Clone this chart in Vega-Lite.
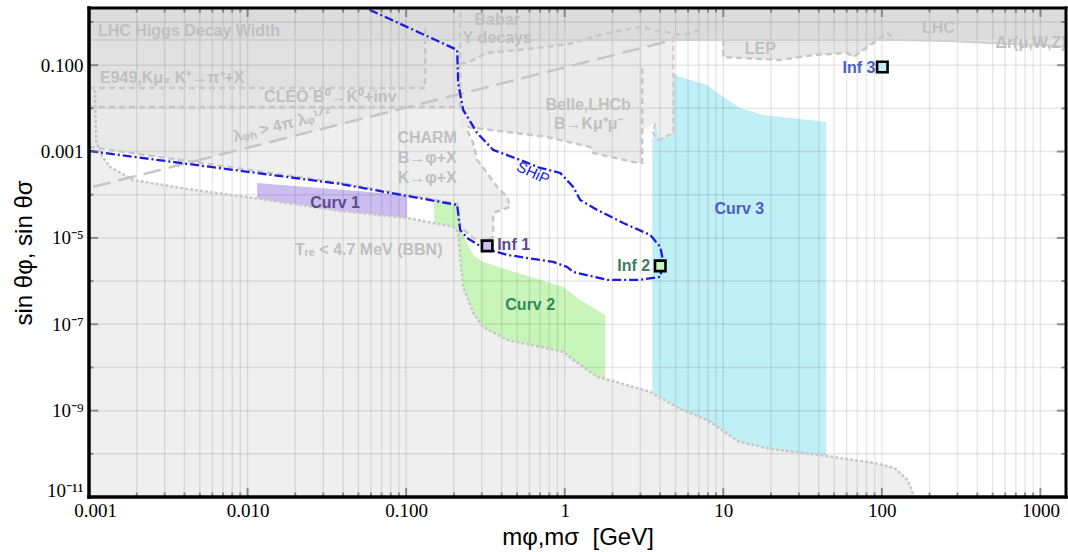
{
"$schema": "https://vega.github.io/schema/vega-lite/v6.json",
"width": 977, "height": 489,
"autosize": {"type": "none"},
"padding": {"left": 89, "top": 8, "right": 2, "bottom": 55},
"background": "white",
"config": {"view": {"stroke": null}, "font": "Liberation Sans"},
"datasets": {
"poly": [
{"id":"up","o":1,"x":0.0009,"y":0.00134},{"id":"up","o":2,"x":0.005016,"y":0.000545},{"id":"up","o":3,"x":0.03835,"y":0.000187},{"id":"up","o":4,"x":0.2099,"y":0.0000612},{"id":"up","o":5,"x":0.2192,"y":0.000018},{"id":"up","o":6,"x":0.2647,"y":0.00001},{"id":"up","o":7,"x":0.306,"y":0.00000808},{"id":"up","o":8,"x":0.3539,"y":0.0000105},{"id":"up","o":9,"x":0.3539,"y":0.0000379},{"id":"up","o":10,"x":0.4531,"y":0.0000522},{"id":"up","o":11,"x":0.4337,"y":0.0000889},{"id":"up","o":12,"x":0.3751,"y":0.000152},{"id":"up","o":13,"x":0.3243,"y":0.00032},{"id":"up","o":14,"x":0.2805,"y":0.000639},{"id":"up","o":15,"x":0.2647,"y":0.001581},{"id":"up","o":16,"x":0.2426,"y":0.003162},{"id":"up","o":17,"x":0.2426,"y":0.00371},{"id":"up","o":18,"x":0.4337,"y":0.002843},{"id":"up","o":19,"x":0.7754,"y":0.002178},{"id":"up","o":20,"x":1.448,"y":0.001278},{"id":"up","o":21,"x":1.513,"y":0.000928},{"id":"up","o":22,"x":2.705,"y":0.000574},{"id":"up","o":23,"x":3.083,"y":0.000545},{"id":"up","o":24,"x":3.083,"y":0.003162},{"id":"up","o":25,"x":3.724,"y":0.004592},{"id":"up","o":26,"x":3.947,"y":0.001856},{"id":"up","o":27,"x":4.836,"y":0.002695},{"id":"up","o":28,"x":4.836,"y":0.4262},{"id":"up","o":29,"x":10,"y":0.4262},{"id":"up","o":30,"x":10,"y":0.1548},{"id":"up","o":31,"x":22.89,"y":0.1319},{"id":"up","o":32,"x":36.97,"y":0.1722},{"id":"up","o":33,"x":60.57,"y":0.1916},{"id":"up","o":34,"x":66.13,"y":0.1548},{"id":"up","o":35,"x":88.41,"y":0.3265},{"id":"up","o":36,"x":108.3,"y":0.5564},{"id":"up","o":37,"x":118.2,"y":0.4262},{"id":"up","o":38,"x":259,"y":0.3632},{"id":"up","o":39,"x":2000,"y":0.2637},{"id":"up","o":40,"x":2000,"y":5},{"id":"up","o":41,"x":0.0009,"y":5},
{"id":"bbn","o":1,"x":0.0009,"y":0.0267},{"id":"bbn","o":2,"x":0.001091,"y":0.02667},{"id":"bbn","o":3,"x":0.001107,"y":0.001856},{"id":"bbn","o":4,"x":0.001173,"y":0.000928},{"id":"bbn","o":5,"x":0.001357,"y":0.00044},{"id":"bbn","o":6,"x":0.001895,"y":0.00022},{"id":"bbn","o":7,"x":0.004152,"y":0.000136},{"id":"bbn","o":8,"x":0.01199,"y":0.0000799},{"id":"bbn","o":9,"x":0.03835,"y":0.0000422},{"id":"bbn","o":10,"x":0.1015,"y":0.000029},{"id":"bbn","o":11,"x":0.1979,"y":0.000018},{"id":"bbn","o":12,"x":0.2129,"y":0.0000138},{"id":"bbn","o":13,"x":0.2192,"y":0.00000363},{"id":"bbn","o":14,"x":0.2289,"y":7.34e-7},{"id":"bbn","o":15,"x":0.2647,"y":1.84e-7},{"id":"bbn","o":16,"x":0.306,"y":8.71e-8},{"id":"bbn","o":17,"x":0.4337,"y":4.35e-8},{"id":"bbn","o":18,"x":0.7005,"y":3.0e-8},{"id":"bbn","o":19,"x":0.9784,"y":2.3e-8},{"id":"bbn","o":20,"x":1.131,"y":1.5e-8},{"id":"bbn","o":21,"x":1.603,"y":6.06e-9},{"id":"bbn","o":22,"x":1.801,"y":5.45e-9},{"id":"bbn","o":23,"x":3.463,"y":2.72e-9},{"id":"bbn","o":24,"x":5.201,"y":1.16e-9},{"id":"bbn","o":25,"x":8.045,"y":5.81e-10},{"id":"bbn","o":26,"x":12.62,"y":1.9e-10},{"id":"bbn","o":27,"x":19.8,"y":1.3e-10},{"id":"bbn","o":28,"x":44.01,"y":8.99e-11},{"id":"bbn","o":29,"x":88.41,"y":6.19e-11},{"id":"bbn","o":30,"x":119.9,"y":4.74e-11},{"id":"bbn","o":31,"x":144.9,"y":2.5e-11},{"id":"bbn","o":32,"x":160.3,"y":1e-11},{"id":"bbn","o":33,"x":175,"y":3e-12},{"id":"bbn","o":34,"x":175,"y":1e-13},{"id":"bbn","o":35,"x":0.0009,"y":1e-13},
{"id":"lam","o":1,"x":0.0009,"y":0.00134},{"id":"lam","o":2,"x":0.004465,"y":0.000574},{"id":"lam","o":3,"x":4.836,"y":0.3831},{"id":"lam","o":4,"x":4.836,"y":5},{"id":"lam","o":5,"x":0.0009,"y":5},
{"id":"belle","o":1,"x":0.2426,"y":0.00371},{"id":"belle","o":2,"x":0.4337,"y":0.002843},{"id":"belle","o":3,"x":0.7754,"y":0.002178},{"id":"belle","o":4,"x":1.448,"y":0.001278},{"id":"belle","o":5,"x":1.513,"y":0.000928},{"id":"belle","o":6,"x":2.705,"y":0.000574},{"id":"belle","o":7,"x":3.083,"y":0.000545},{"id":"belle","o":8,"x":3.083,"y":0.2501},{"id":"belle","o":9,"x":0.2192,"y":0.02154},{"id":"belle","o":10,"x":0.2192,"y":0.00371},
{"id":"cleo","o":1,"x":0.0009,"y":0.01077},{"id":"cleo","o":2,"x":0.2192,"y":0.01077},{"id":"cleo","o":3,"x":0.2192,"y":5},{"id":"cleo","o":4,"x":0.0009,"y":5},
{"id":"e949","o":1,"x":0.0009,"y":0.02967},{"id":"e949","o":2,"x":0.1318,"y":0.02967},{"id":"e949","o":3,"x":0.1318,"y":5},{"id":"e949","o":4,"x":0.0009,"y":5},
{"id":"babar","o":1,"x":0.2192,"y":5},{"id":"babar","o":2,"x":0.2192,"y":0.1124},{"id":"babar","o":3,"x":0.2426,"y":0.1124},{"id":"babar","o":4,"x":0.3243,"y":0.1916},{"id":"babar","o":5,"x":0.7754,"y":0.2637},{"id":"babar","o":6,"x":1.131,"y":0.3265},{"id":"babar","o":7,"x":1.854,"y":0.5564},{"id":"babar","o":8,"x":2.995,"y":0.766},{"id":"babar","o":9,"x":4.63,"y":0.5564},{"id":"babar","o":10,"x":5.593,"y":0.5},{"id":"babar","o":11,"x":7.159,"y":0.6529},{"id":"babar","o":12,"x":7.159,"y":5},
{"id":"lep","o":1,"x":10,"y":5},{"id":"lep","o":2,"x":10,"y":0.1548},{"id":"lep","o":3,"x":22.89,"y":0.1319},{"id":"lep","o":4,"x":36.97,"y":0.1722},{"id":"lep","o":5,"x":60.57,"y":0.1916},{"id":"lep","o":6,"x":66.13,"y":0.1548},{"id":"lep","o":7,"x":88.41,"y":0.3265},{"id":"lep","o":8,"x":108.3,"y":0.5564},{"id":"lep","o":9,"x":118.2,"y":0.4262},{"id":"lep","o":10,"x":118.2,"y":5},
{"id":"lhc","o":1,"x":118.2,"y":5},{"id":"lhc","o":2,"x":118.2,"y":0.4262},{"id":"lhc","o":3,"x":127.1,"y":0.3831},{"id":"lhc","o":4,"x":259,"y":0.3632},{"id":"lhc","o":5,"x":2000,"y":0.2637},{"id":"lhc","o":6,"x":2000,"y":5},
{"id":"band","o":1,"x":0.0009,"y":0.3831},{"id":"band","o":2,"x":2000,"y":0.3831},{"id":"band","o":3,"x":2000,"y":5},{"id":"band","o":4,"x":0.0009,"y":5},
{"id":"c1","o":1,"x":0.01148,"y":0.000187},{"id":"c1","o":2,"x":0.1015,"y":0.0000989},{"id":"c1","o":3,"x":0.1015,"y":0.000029},{"id":"c1","o":4,"x":0.03835,"y":0.0000422},{"id":"c1","o":5,"x":0.01199,"y":0.0000799},{"id":"c1","o":6,"x":0.01148,"y":0.0000843},
{"id":"c2","o":1,"x":0.1502,"y":0.0000758},{"id":"c2","o":2,"x":0.2099,"y":0.000058},{"id":"c2","o":3,"x":0.2192,"y":0.0000153},{"id":"c2","o":4,"x":0.2647,"y":0.00000404},{"id":"c2","o":5,"x":0.306,"y":0.00000278},{"id":"c2","o":6,"x":0.4337,"y":0.00000182},{"id":"c2","o":7,"x":0.6329,"y":0.00000119},{"id":"c2","o":8,"x":0.9784,"y":7.34e-7},{"id":"c2","o":9,"x":1.252,"y":3.67e-7},{"id":"c2","o":10,"x":1.801,"y":1.65e-7},{"id":"c2","o":11,"x":1.801,"y":5.45e-9},{"id":"c2","o":12,"x":1.603,"y":6.06e-9},{"id":"c2","o":13,"x":1.131,"y":1.5e-8},{"id":"c2","o":14,"x":0.9784,"y":2.3e-8},{"id":"c2","o":15,"x":0.7005,"y":3.0e-8},{"id":"c2","o":16,"x":0.4337,"y":4.35e-8},{"id":"c2","o":17,"x":0.306,"y":8.71e-8},{"id":"c2","o":18,"x":0.2647,"y":1.84e-7},{"id":"c2","o":19,"x":0.2289,"y":7.34e-7},{"id":"c2","o":20,"x":0.2192,"y":0.00000363},{"id":"c2","o":21,"x":0.2129,"y":0.0000138},{"id":"c2","o":22,"x":0.1979,"y":0.000018},{"id":"c2","o":23,"x":0.1502,"y":0.0000222},
{"id":"c3","o":1,"x":3.566,"y":2.6e-9},{"id":"c3","o":2,"x":3.566,"y":0.001856},{"id":"c3","o":3,"x":3.724,"y":0.004592},{"id":"c3","o":4,"x":3.947,"y":0.001856},{"id":"c3","o":5,"x":4.836,"y":0.002695},{"id":"c3","o":6,"x":4.836,"y":0.06598},{"id":"c3","o":7,"x":5.355,"y":0.05332},{"id":"c3","o":8,"x":7.929,"y":0.0348},{"id":"c3","o":9,"x":10,"y":0.01836},{"id":"c3","o":10,"x":12.81,"y":0.01022},{"id":"c3","o":11,"x":17.88,"y":0.007036},{"id":"c3","o":12,"x":44.65,"y":0.004843},{"id":"c3","o":13,"x":44.65,"y":8.99e-11},{"id":"c3","o":14,"x":19.8,"y":1.3e-10},{"id":"c3","o":15,"x":12.62,"y":1.9e-10},{"id":"c3","o":16,"x":8.045,"y":5.81e-10},{"id":"c3","o":17,"x":5.201,"y":1.16e-9}
],
"ln": [
{"id":"bnd","o":1,"x":0.001,"y":0.001278},{"id":"bnd","o":2,"x":0.03835,"y":0.000187},{"id":"bnd","o":3,"x":0.2099,"y":0.0000612},{"id":"bnd","o":4,"x":0.2192,"y":0.000018},{"id":"bnd","o":5,"x":0.2647,"y":0.00001},{"id":"bnd","o":6,"x":0.306,"y":0.00000808},{"id":"bnd","o":7,"x":0.3539,"y":0.0000105},{"id":"bnd","o":8,"x":0.3539,"y":0.0000379},{"id":"bnd","o":9,"x":0.4531,"y":0.0000522},{"id":"bnd","o":10,"x":0.4337,"y":0.0000889},{"id":"bnd","o":11,"x":0.3751,"y":0.000152},{"id":"bnd","o":12,"x":0.3243,"y":0.00032},{"id":"bnd","o":13,"x":0.2805,"y":0.000639},{"id":"bnd","o":14,"x":0.2647,"y":0.001581},{"id":"bnd","o":15,"x":0.2426,"y":0.003162},{"id":"bnd","o":16,"x":0.2426,"y":0.00371},{"id":"bnd","o":17,"x":0.4337,"y":0.002843},{"id":"bnd","o":18,"x":0.7754,"y":0.002178},{"id":"bnd","o":19,"x":1.448,"y":0.001278},{"id":"bnd","o":20,"x":1.513,"y":0.000928},{"id":"bnd","o":21,"x":2.705,"y":0.000574},{"id":"bnd","o":22,"x":3.083,"y":0.000545},{"id":"bnd","o":23,"x":3.083,"y":0.08614},{"id":"bnd","o":24,"x":3.2,"y":0.08614},
{"id":"e949l","o":1,"x":0.001,"y":0.02967},{"id":"e949l","o":2,"x":0.1318,"y":0.02967},{"id":"e949l","o":3,"x":0.1318,"y":0.766},
{"id":"cleol","o":1,"x":0.001,"y":0.01077},{"id":"cleol","o":2,"x":0.2192,"y":0.01077},{"id":"cleol","o":3,"x":0.2192,"y":2.2},
{"id":"lepl","o":1,"x":10,"y":0.3831},{"id":"lepl","o":2,"x":10,"y":0.1548},{"id":"lepl","o":3,"x":22.89,"y":0.1319},{"id":"lepl","o":4,"x":36.97,"y":0.1722},{"id":"lepl","o":5,"x":60.57,"y":0.1916},{"id":"lepl","o":6,"x":66.13,"y":0.1548},{"id":"lepl","o":7,"x":88.41,"y":0.3265},{"id":"lepl","o":8,"x":108.3,"y":0.5564},{"id":"lepl","o":9,"x":118.2,"y":0.4262},
{"id":"babl","o":1,"x":0.2192,"y":0.1124},{"id":"babl","o":2,"x":0.2426,"y":0.1124},{"id":"babl","o":3,"x":0.3243,"y":0.1916},{"id":"babl","o":4,"x":0.7754,"y":0.2637},{"id":"babl","o":5,"x":1.131,"y":0.3265},{"id":"babl","o":6,"x":1.854,"y":0.5564},{"id":"babl","o":7,"x":2.995,"y":0.766},{"id":"babl","o":8,"x":4.63,"y":0.5564},{"id":"babl","o":9,"x":5.593,"y":0.5},{"id":"babl","o":10,"x":7.159,"y":0.6529},
{"id":"bbnl","o":1,"x":0.001091,"y":0.02667},{"id":"bbnl","o":2,"x":0.001107,"y":0.001856},{"id":"bbnl","o":3,"x":0.001173,"y":0.000928},{"id":"bbnl","o":4,"x":0.001357,"y":0.00044},{"id":"bbnl","o":5,"x":0.001895,"y":0.00022},{"id":"bbnl","o":6,"x":0.004152,"y":0.000136},{"id":"bbnl","o":7,"x":0.01199,"y":0.0000799},{"id":"bbnl","o":8,"x":0.03835,"y":0.0000422},{"id":"bbnl","o":9,"x":0.1015,"y":0.000029},{"id":"bbnl","o":10,"x":0.1979,"y":0.000018},{"id":"bbnl","o":11,"x":0.2129,"y":0.0000138},{"id":"bbnl","o":12,"x":0.2192,"y":0.00000363},{"id":"bbnl","o":13,"x":0.2289,"y":7.34e-7},{"id":"bbnl","o":14,"x":0.2647,"y":1.84e-7},{"id":"bbnl","o":15,"x":0.306,"y":8.71e-8},{"id":"bbnl","o":16,"x":0.4337,"y":4.35e-8},{"id":"bbnl","o":17,"x":0.7005,"y":3.0e-8},{"id":"bbnl","o":18,"x":0.9784,"y":2.3e-8},{"id":"bbnl","o":19,"x":1.131,"y":1.5e-8},{"id":"bbnl","o":20,"x":1.603,"y":6.06e-9},{"id":"bbnl","o":21,"x":1.801,"y":5.45e-9},{"id":"bbnl","o":22,"x":3.463,"y":2.72e-9},{"id":"bbnl","o":23,"x":5.201,"y":1.16e-9},{"id":"bbnl","o":24,"x":8.045,"y":5.81e-10},{"id":"bbnl","o":25,"x":12.62,"y":1.9e-10},{"id":"bbnl","o":26,"x":19.8,"y":1.3e-10},{"id":"bbnl","o":27,"x":44.01,"y":8.99e-11},{"id":"bbnl","o":28,"x":88.41,"y":6.19e-11},{"id":"bbnl","o":29,"x":119.9,"y":4.74e-11},{"id":"bbnl","o":30,"x":144.9,"y":2.5e-11},{"id":"bbnl","o":31,"x":160.3,"y":1e-11},
{"id":"laml","o":1,"x":0.00106,"y":0.000152},{"id":"laml","o":2,"x":4.836,"y":0.3831},
{"id":"solid","o":1,"x":0.001,"y":0.3831},{"id":"solid","o":2,"x":127.1,"y":0.3831},{"id":"solid","o":3,"x":259,"y":0.3632},{"id":"solid","o":4,"x":1450,"y":0.27},
{"id":"pink","o":1,"x":3.724,"y":0.004592},{"id":"pink","o":2,"x":3.6,"y":0.0027},{"id":"pink","o":3,"x":3.9,"y":0.00186},{"id":"pink","o":4,"x":4.836,"y":0.0027},{"id":"pink","o":5,"x":4.836,"y":0.5564}
],
"ship": [
{"o":1,"x":0.001,"y":0.001032},{"o":2,"x":0.03835,"y":0.000178},{"o":3,"x":0.2099,"y":0.000058},{"o":4,"x":0.2192,"y":0.0000153},{"o":5,"x":0.2426,"y":0.00001},{"o":6,"x":0.306,"y":0.00000587},{"o":7,"x":0.4337,"y":0.00000404},{"o":8,"x":0.8461,"y":0.00000278},{"o":9,"x":1.037,"y":0.00000213},{"o":10,"x":1.131,"y":0.00000163},{"o":11,"x":1.854,"y":0.00000107},{"o":12,"x":2.995,"y":0.00000107},{"o":13,"x":4.004,"y":0.00000125},{"o":14,"x":4.183,"y":0.00000278},{"o":15,"x":4.004,"y":0.00000619},{"o":16,"x":3.463,"y":0.0000117},{"o":17,"x":2.339,"y":0.0000222},{"o":18,"x":1.603,"y":0.0000445},{"o":19,"x":1.252,"y":0.0000758},{"o":20,"x":1.131,"y":0.000152},{"o":21,"x":0.9368,"y":0.00032},{"o":22,"x":0.7005,"y":0.000417},{"o":23,"x":0.524,"y":0.000639},{"o":24,"x":0.3539,"y":0.001089},{"o":25,"x":0.2805,"y":0.002695},{"o":26,"x":0.2289,"y":0.009182},{"o":27,"x":0.2129,"y":0.03873},{"o":28,"x":0.2099,"y":0.2248},{"o":29,"x":0.05929,"y":1.896},{"o":30,"x":0.0456,"y":2.9}
],
"gc": [
{"t":"Babar","x":0.3751,"y":1.112},{"t":"Υ decays","x":0.3751,"y":0.4262},{"t":"LEP","x":17.12,"y":0.2371},{"t":"LHC","x":227.3,"y":0.7262},{"t":"Belle,LHCb","x":1.407,"y":0.01199},{"t":"B→Kμ⁺μ⁻","x":1.407,"y":0.004355},{"t":"CHARM","x":0.1357,"y":0.002065},{"t":"B→φ+X","x":0.1357,"y":0.000711},{"t":"K→φ+X","x":0.1357,"y":0.000245}
],
"gl": [
{"t":"LHC Higgs Decay Width","x":0.00114,"y":0.619},{"t":"E949,Kμ₂ K⁺→π⁺+X","x":0.001173,"y":0.0505},{"t":"CLEO B⁰→K⁰+inv","x":0.01271,"y":0.01836},{"t":"Δr(μ,W,Z)","x":520.1,"y":0.3265},{"t":"Tᵣₑ < 4.7 MeV (BBN)","x":0.01994,"y":0.00000528}
],
"lamlab": [{"t":"λᵩₕ > 4π λᵩ¹ᐟ²","x":0.01651,"y":0.004127}],
"shiplab": [{"t":"SHiP","x":0.6329,"y":0.00032}],
"clab": [
{"t":"Curv 1","x":0.03564,"y":0.0000646},{"t":"Curv 2","x":0.6058,"y":2.81e-7},{"t":"Curv 3","x":12.62,"y":0.0000469},{"t":"Inf 1","x":0.3751,"y":0.00000689},{"t":"Inf 2","x":3.463,"y":0.00000225},{"t":"Inf 3","x":91.0,"y":0.0861}
],
"inf": [
{"n":"Inf 1","x":0.3243,"y":0.00000653},{"n":"Inf 2","x":4.004,"y":0.00000225},{"n":"Inf 3","x":100.7,"y":0.09085}
],
"xt": [
{"x":0.001,"m":1},{"x":0.002,"m":0},{"x":0.003,"m":0},{"x":0.004,"m":0},{"x":0.005,"m":0},{"x":0.006,"m":0},{"x":0.007,"m":0},{"x":0.008,"m":0},{"x":0.009,"m":0},
{"x":0.01,"m":1},{"x":0.02,"m":0},{"x":0.03,"m":0},{"x":0.04,"m":0},{"x":0.05,"m":0},{"x":0.06,"m":0},{"x":0.07,"m":0},{"x":0.08,"m":0},{"x":0.09,"m":0},
{"x":0.1,"m":1},{"x":0.2,"m":0},{"x":0.3,"m":0},{"x":0.4,"m":0},{"x":0.5,"m":0},{"x":0.6,"m":0},{"x":0.7,"m":0},{"x":0.8,"m":0},{"x":0.9,"m":0},
{"x":1,"m":1},{"x":2,"m":0},{"x":3,"m":0},{"x":4,"m":0},{"x":5,"m":0},{"x":6,"m":0},{"x":7,"m":0},{"x":8,"m":0},{"x":9,"m":0},
{"x":10,"m":1},{"x":20,"m":0},{"x":30,"m":0},{"x":40,"m":0},{"x":50,"m":0},{"x":60,"m":0},{"x":70,"m":0},{"x":80,"m":0},{"x":90,"m":0},
{"x":100,"m":1},{"x":200,"m":0},{"x":300,"m":0},{"x":400,"m":0},{"x":500,"m":0},{"x":600,"m":0},{"x":700,"m":0},{"x":800,"m":0},{"x":900,"m":0},
{"x":1000,"m":1}
],
"yt": [
{"y":1e-11,"m":1},{"y":1e-10,"m":0},{"y":1e-9,"m":1},{"y":1e-8,"m":0},{"y":1e-7,"m":1},{"y":1e-6,"m":0},{"y":1e-5,"m":1},{"y":1e-4,"m":0},{"y":0.001,"m":1},{"y":0.01,"m":0},{"y":0.1,"m":1},{"y":1,"m":0}
]
},
"layer": [
{"data":{"name":"poly"},"transform":[{"filter":"datum.id==='up'"}],"mark":{"type":"line","fill":"#efefef","strokeWidth":0,"clip":true},
 "encoding":{
  "x":{"field":"x","type":"quantitative","scale":{"type":"log","domain":[0.001,1450],"nice":false},
   "axis":{"values":[0.001,0.01,0.1,1,10,100,1000],"labelExpr":"datum.value < 1 ? format(datum.value, '.3f') : format(datum.value, 'd')","ticks":false,"domain":false,"grid":false,"labelFont":"Liberation Serif","labelFontSize":19,"labelColor":"#000","labelPadding":4,"labelFlush":false,"labelOffset":{"condition":{"test":"datum.value < 0.002","value":6},"value":0},"title":"mφ,mσ\u00a0 [GeV]","titleFont":"Liberation Sans","titleFontSize":24,"titleFontWeight":"normal","titleColor":"#000","titlePadding":5}},
  "y":{"field":"y","type":"quantitative","scale":{"type":"log","domain":[1e-11,2.109],"nice":false},
   "axis":{"values":[1e-11,1e-9,1e-7,1e-5,0.001,0.1],"labelExpr":"datum.value > 0.0005 ? format(datum.value, '.3f') : (datum.value > 5e-6 ? '10⁻⁵' : (datum.value > 5e-8 ? '10⁻⁷' : (datum.value > 5e-10 ? '10⁻⁹' : '10⁻¹¹')))","ticks":false,"domain":false,"grid":false,"labelFont":"Liberation Serif","labelFontSize":19,"labelColor":"#000","labelPadding":6,"labelFlush":false,"labelOffset":{"condition":{"test":"datum.value < 1e-10","value":-7},"value":0},"title":"sin θφ, sin θσ","titleFont":"Liberation Sans","titleFontSize":24,"titleFontWeight":"normal","titleColor":"#000","titlePadding":4}},
  "order":{"field":"o"}}},
{"data":{"name":"poly"},"transform":[{"filter":"datum.id==='bbn'"}],"mark":{"type":"line","fill":"#efefef","strokeWidth":0,"clip":true},"encoding":{"x":{"field":"x","type":"quantitative","scale":{"type":"log"}},"y":{"field":"y","type":"quantitative","scale":{"type":"log"}},"order":{"field":"o"}}},
{"data":{"name":"poly"},"transform":[{"filter":"datum.id==='lam'"}],"mark":{"type":"line","fill":"#e9e9e9","strokeWidth":0,"clip":true},"encoding":{"x":{"field":"x","type":"quantitative","scale":{"type":"log"}},"y":{"field":"y","type":"quantitative","scale":{"type":"log"}},"order":{"field":"o"}}},
{"data":{"name":"poly"},"transform":[{"filter":"datum.id==='belle'"}],"mark":{"type":"line","fill":"#ebebeb","strokeWidth":0,"clip":true},"encoding":{"x":{"field":"x","type":"quantitative","scale":{"type":"log"}},"y":{"field":"y","type":"quantitative","scale":{"type":"log"}},"order":{"field":"o"}}},
{"data":{"name":"poly"},"transform":[{"filter":"datum.id==='cleo'"}],"mark":{"type":"line","fill":"#e5e5e5","strokeWidth":0,"clip":true},"encoding":{"x":{"field":"x","type":"quantitative","scale":{"type":"log"}},"y":{"field":"y","type":"quantitative","scale":{"type":"log"}},"order":{"field":"o"}}},
{"data":{"name":"poly"},"transform":[{"filter":"datum.id==='e949'"}],"mark":{"type":"line","fill":"#e1e1e1","strokeWidth":0,"clip":true},"encoding":{"x":{"field":"x","type":"quantitative","scale":{"type":"log"}},"y":{"field":"y","type":"quantitative","scale":{"type":"log"}},"order":{"field":"o"}}},
{"data":{"name":"poly"},"transform":[{"filter":"datum.id==='babar'"}],"mark":{"type":"line","fill":"#e3e3e3","strokeWidth":0,"clip":true},"encoding":{"x":{"field":"x","type":"quantitative","scale":{"type":"log"}},"y":{"field":"y","type":"quantitative","scale":{"type":"log"}},"order":{"field":"o"}}},
{"data":{"name":"poly"},"transform":[{"filter":"datum.id==='lep'"}],"mark":{"type":"line","fill":"#e7e7e7","strokeWidth":0,"clip":true},"encoding":{"x":{"field":"x","type":"quantitative","scale":{"type":"log"}},"y":{"field":"y","type":"quantitative","scale":{"type":"log"}},"order":{"field":"o"}}},
{"data":{"name":"poly"},"transform":[{"filter":"datum.id==='lhc'"}],"mark":{"type":"line","fill":"#e4e4e4","strokeWidth":0,"clip":true},"encoding":{"x":{"field":"x","type":"quantitative","scale":{"type":"log"}},"y":{"field":"y","type":"quantitative","scale":{"type":"log"}},"order":{"field":"o"}}},
{"data":{"name":"poly"},"transform":[{"filter":"datum.id==='band'"}],"mark":{"type":"line","fill":"#dcdcdc","strokeWidth":0,"clip":true},"encoding":{"x":{"field":"x","type":"quantitative","scale":{"type":"log"}},"y":{"field":"y","type":"quantitative","scale":{"type":"log"}},"order":{"field":"o"}}},
{"data":{"name":"poly"},"transform":[{"filter":"datum.id==='c1'"}],"mark":{"type":"line","fill":"#ccbef0","strokeWidth":0,"clip":true},"encoding":{"x":{"field":"x","type":"quantitative","scale":{"type":"log"}},"y":{"field":"y","type":"quantitative","scale":{"type":"log"}},"order":{"field":"o"}}},
{"data":{"name":"poly"},"transform":[{"filter":"datum.id==='c2'"}],"mark":{"type":"line","fill":"#c8f5b9","strokeWidth":0,"clip":true},"encoding":{"x":{"field":"x","type":"quantitative","scale":{"type":"log"}},"y":{"field":"y","type":"quantitative","scale":{"type":"log"}},"order":{"field":"o"}}},
{"data":{"name":"poly"},"transform":[{"filter":"datum.id==='c3'"}],"mark":{"type":"line","fill":"#c0eff5","strokeWidth":0,"clip":true},"encoding":{"x":{"field":"x","type":"quantitative","scale":{"type":"log"}},"y":{"field":"y","type":"quantitative","scale":{"type":"log"}},"order":{"field":"o"}}},
{"data":{"name":"xt"},"mark":{"type":"rule","color":"#000","opacity":0.09,"strokeWidth":1.5,"clip":true},"encoding":{"x":{"field":"x","type":"quantitative","scale":{"type":"log"}}}},
{"data":{"name":"yt"},"mark":{"type":"rule","color":"#000","opacity":0.09,"strokeWidth":1.5,"clip":true},"encoding":{"y":{"field":"y","type":"quantitative","scale":{"type":"log"}}}},
{"data":{"name":"ln"},"transform":[{"filter":"indexof(['bnd','e949l','cleol','lepl','babl'], datum.id) >= 0"}],"mark":{"type":"line","color":"#c8c8c8","strokeWidth":2.5,"strokeDash":[6,4],"clip":true},"encoding":{"x":{"field":"x","type":"quantitative","scale":{"type":"log"}},"y":{"field":"y","type":"quantitative","scale":{"type":"log"}},"detail":{"field":"id"},"order":{"field":"o"}}},
{"data":{"name":"ln"},"transform":[{"filter":"datum.id==='bbnl'"}],"mark":{"type":"line","color":"#c8c8c8","strokeWidth":2.5,"strokeDash":[3,2],"clip":true},"encoding":{"x":{"field":"x","type":"quantitative","scale":{"type":"log"}},"y":{"field":"y","type":"quantitative","scale":{"type":"log"}},"order":{"field":"o"}}},
{"data":{"name":"ln"},"transform":[{"filter":"datum.id==='laml'"}],"mark":{"type":"line","color":"#c6c6c6","strokeWidth":2.5,"strokeDash":[18,8],"clip":true},"encoding":{"x":{"field":"x","type":"quantitative","scale":{"type":"log"}},"y":{"field":"y","type":"quantitative","scale":{"type":"log"}},"order":{"field":"o"}}},
{"data":{"name":"ln"},"transform":[{"filter":"datum.id==='solid'"}],"mark":{"type":"line","color":"#cfcfcf","strokeWidth":2,"clip":true},"encoding":{"x":{"field":"x","type":"quantitative","scale":{"type":"log"}},"y":{"field":"y","type":"quantitative","scale":{"type":"log"}},"order":{"field":"o"}}},
{"data":{"name":"ln"},"transform":[{"filter":"datum.id==='pink'"}],"mark":{"type":"line","color":"#d9c5cb","strokeWidth":2,"strokeDash":[6,3],"clip":true},"encoding":{"x":{"field":"x","type":"quantitative","scale":{"type":"log"}},"y":{"field":"y","type":"quantitative","scale":{"type":"log"}},"order":{"field":"o"}}},
{"data":{"name":"ship"},"mark":{"type":"line","color":"#1c1ce0","strokeWidth":2.3,"strokeDash":[9,3,2,3],"clip":true},"encoding":{"x":{"field":"x","type":"quantitative","scale":{"type":"log"}},"y":{"field":"y","type":"quantitative","scale":{"type":"log"}},"order":{"field":"o"}}},
{"data":{"name":"gc"},"mark":{"type":"text","font":"Liberation Sans","fontWeight":"bold","fontSize":16,"color":"#c0c0c0","align":"center","baseline":"middle","clip":true},"encoding":{"x":{"field":"x","type":"quantitative","scale":{"type":"log"}},"y":{"field":"y","type":"quantitative","scale":{"type":"log"}},"text":{"field":"t"}}},
{"data":{"name":"gl"},"mark":{"type":"text","font":"Liberation Sans","fontWeight":"bold","fontSize":16,"color":"#c0c0c0","align":"left","baseline":"middle","clip":true},"encoding":{"x":{"field":"x","type":"quantitative","scale":{"type":"log"}},"y":{"field":"y","type":"quantitative","scale":{"type":"log"}},"text":{"field":"t"}}},
{"data":{"name":"lamlab"},"mark":{"type":"text","font":"Liberation Sans","fontWeight":"bold","fontSize":16,"color":"#c0c0c0","align":"center","baseline":"middle","angle":346,"clip":true},"encoding":{"x":{"field":"x","type":"quantitative","scale":{"type":"log"}},"y":{"field":"y","type":"quantitative","scale":{"type":"log"}},"text":{"field":"t"}}},
{"data":{"name":"shiplab"},"mark":{"type":"text","font":"Liberation Sans","fontSize":15,"color":"#1c1ce0","align":"center","baseline":"middle","angle":25,"clip":true},"encoding":{"x":{"field":"x","type":"quantitative","scale":{"type":"log"}},"y":{"field":"y","type":"quantitative","scale":{"type":"log"}},"text":{"field":"t"}}},
{"data":{"name":"clab"},"transform":[{"filter":"indexof(['Curv 1','Curv 2','Curv 3'], datum.t) >= 0"}],"mark":{"type":"text","font":"Liberation Sans","fontWeight":"bold","fontSize":16,"align":"center","baseline":"middle"},"encoding":{"x":{"field":"x","type":"quantitative","scale":{"type":"log"}},"y":{"field":"y","type":"quantitative","scale":{"type":"log"}},"text":{"field":"t"},"color":{"field":"t","type":"nominal","scale":{"domain":["Curv 1","Curv 2","Curv 3","Inf 1","Inf 2","Inf 3"],"range":["#5b4a8b","#2f8a5a","#4a5fc4","#5e4b8b","#3f7d63","#4a5fc4"]},"legend":null}}},
{"data":{"name":"clab"},"transform":[{"filter":"datum.t==='Inf 1'"}],"mark":{"type":"text","font":"Liberation Sans","fontWeight":"bold","fontSize":16,"align":"left","baseline":"middle"},"encoding":{"x":{"field":"x","type":"quantitative","scale":{"type":"log"}},"y":{"field":"y","type":"quantitative","scale":{"type":"log"}},"text":{"field":"t"},"color":{"field":"t","type":"nominal","legend":null}}},
{"data":{"name":"clab"},"transform":[{"filter":"datum.t==='Inf 2' || datum.t==='Inf 3'"}],"mark":{"type":"text","font":"Liberation Sans","fontWeight":"bold","fontSize":16,"align":"right","baseline":"middle"},"encoding":{"x":{"field":"x","type":"quantitative","scale":{"type":"log"}},"y":{"field":"y","type":"quantitative","scale":{"type":"log"}},"text":{"field":"t"},"color":{"field":"t","type":"nominal","legend":null}}},
{"data":{"name":"inf"},"mark":{"type":"point","shape":"square","filled":true,"size":110,"stroke":"#000","strokeWidth":2.6,"opacity":1},"encoding":{"x":{"field":"x","type":"quantitative","scale":{"type":"log"}},"y":{"field":"y","type":"quantitative","scale":{"type":"log"}},"fill":{"field":"n","type":"nominal","scale":{"domain":["Inf 1","Inf 2","Inf 3"],"range":["#ccbef0","#c8f5b9","#c0eff5"]},"legend":null}}},
{"data":{"name":"xt"},"mark":{"type":"tick","orient":"vertical","color":"#666","thickness":2,"clip":true},"encoding":{"x":{"field":"x","type":"quantitative","scale":{"type":"log"}},"y":{"datum":1e-11,"type":"quantitative","scale":{"type":"log"}},"size":{"condition":{"test":"datum.m==1","value":18},"value":9}}},
{"data":{"name":"xt"},"mark":{"type":"tick","orient":"vertical","color":"#666","thickness":2,"clip":true},"encoding":{"x":{"field":"x","type":"quantitative","scale":{"type":"log"}},"y":{"datum":2.109,"type":"quantitative","scale":{"type":"log"}},"size":{"condition":{"test":"datum.m==1","value":18},"value":9}}},
{"data":{"name":"yt"},"mark":{"type":"tick","orient":"horizontal","color":"#666","thickness":2,"clip":true},"encoding":{"y":{"field":"y","type":"quantitative","scale":{"type":"log"}},"x":{"datum":0.001,"type":"quantitative","scale":{"type":"log"}},"size":{"condition":{"test":"datum.m==1","value":18},"value":9}}},
{"data":{"name":"yt"},"mark":{"type":"tick","orient":"horizontal","color":"#666","thickness":2,"clip":true},"encoding":{"y":{"field":"y","type":"quantitative","scale":{"type":"log"}},"x":{"datum":1450,"type":"quantitative","scale":{"type":"log"}},"size":{"condition":{"test":"datum.m==1","value":18},"value":9}}},
{"data":{"values":[{}]},"mark":{"type":"rule","color":"#000","strokeWidth":3.5,"strokeCap":"square"},"encoding":{"x":{"datum":0.001,"type":"quantitative","scale":{"type":"log"}}}},
{"data":{"values":[{}]},"mark":{"type":"rule","color":"#000","strokeWidth":3,"strokeCap":"square"},"encoding":{"x":{"datum":1450,"type":"quantitative","scale":{"type":"log"}}}},
{"data":{"values":[{}]},"mark":{"type":"rule","color":"#000","strokeWidth":3.5,"strokeCap":"square"},"encoding":{"y":{"datum":1e-11,"type":"quantitative","scale":{"type":"log"}}}},
{"data":{"values":[{}]},"mark":{"type":"rule","color":"#000","strokeWidth":3,"strokeCap":"square"},"encoding":{"y":{"datum":2.109,"type":"quantitative","scale":{"type":"log"}}}}
]
}
